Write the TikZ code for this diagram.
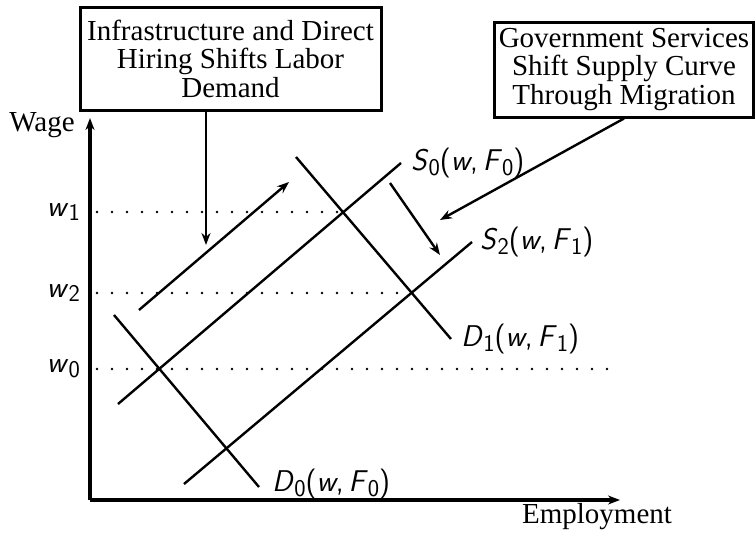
\documentclass[tikz,border=0pt]{standalone}
\usepackage{fontspec}
\setmainfont{Liberation Serif}
\usetikzlibrary{arrows.meta}

% sans italic curve labels, e.g. S_0(w, F_0)
\newcommand{\lowix}[1]{\raisebox{-0.16em}{\fontsize{24}{24}\selectfont#1}}
\newcommand{\fnlab}[4]{{\sffamily\textit{#1}\lowix{#2}(\textit{w},\,\textit{#3}\lowix{#4})}}
\newcommand{\wlab}[1]{{\sffamily\textit{w}\lowix{#1}}}

\begin{document}
\begin{tikzpicture}[x=1pt, y=-1pt,
    >={Stealth[length=12pt,width=9pt]},
    curve/.style={line width=2.4pt},
    shiftarr/.style={line width=2.4pt, ->},
    level/.style={line width=2.6pt, dash pattern=on 0pt off 15pt, line cap=round},
    note/.style={draw, line width=3pt, align=center, inner sep=3pt,
      font=\fontsize{29}{28.5}\selectfont},
    lab/.style={anchor=west, inner sep=2pt, font=\fontsize{30}{36}\selectfont},
    axlab/.style={font=\fontsize{29}{30}\selectfont}]
  \useasboundingbox (0,0) rectangle (755,533);

  % axes
  \coordinate (o) at (90,500);
  \coordinate (ytip) at (90,118);
  \coordinate (xtip) at (620,500);
  \draw[line width=3.2pt, ->] (o) -- (ytip);
  \draw[line width=3.2pt, ->] (o) -- (xtip);
  \node[axlab] (wage) at (42,125) {Wage};
  \node[axlab] (empl) at (597,517) {Employment};

  % wage levels
  \node[lab, anchor=east] (w1) at (82,212) {\wlab{1}};
  \node[lab, anchor=east] (w2) at (82,293) {\wlab{2}};
  \node[lab, anchor=east] (w0) at (82,369) {\wlab{0}};
  \coordinate (e1) at (343,212);
  \coordinate (e2) at (411,293);
  \coordinate (e0) at (612,369);
  \draw[level] (97,212) -- (e1);
  \draw[level] (97,293) -- (e2);
  \draw[level] (97,369) -- (e0);

  % supply and demand curves
  \coordinate (s0a) at (118,404);  \coordinate (s0b) at (401,163);
  \coordinate (s2a) at (184,484);  \coordinate (s2b) at (472,242);
  \coordinate (d0a) at (114,315);  \coordinate (d0b) at (259,487);
  \coordinate (d1a) at (296,157);  \coordinate (d1b) at (451,339);
  \draw[curve] (s0a) -- (s0b) node[lab, xshift=7pt] (s0lab) {\fnlab{S}{0}{F}{0}};
  \draw[curve] (s2a) -- (s2b) node[lab, xshift=5pt] (s2lab) {\fnlab{S}{2}{F}{1}};
  \draw[curve] (d0a) -- (d0b) node[lab, xshift=10pt, yshift=3pt] (d0lab) {\fnlab{D}{0}{F}{0}};
  \draw[curve] (d1a) -- (d1b) node[lab, xshift=7pt] (d1lab) {\fnlab{D}{1}{F}{1}};

  % shift arrows
  \coordinate (up0) at (139,310);  \coordinate (up1) at (289,182);
  \coordinate (dn0) at (390,183);  \coordinate (dn1) at (440,255);
  \draw[shiftarr] (up0) -- (up1);
  \draw[shiftarr] (dn0) -- (dn1);

  % explanatory boxes
  \node[note, minimum width=301pt, minimum height=103pt] (demnote) at (230.5,58.5)
    {Infrastructure and Direct\\Hiring Shifts Labor\\Demand};
  \node[note, minimum width=259pt, minimum height=95pt] (supnote) at (624,69.5)
    {Government Services\\Shift Supply Curve\\Through Migration};
  \coordinate (demtip) at (206,245);
  \coordinate (suptip) at (440,220);
  \draw[shiftarr] (demnote.south -| demtip) -- (demtip);
  \draw[shiftarr] (supnote.south) -- (suptip);
\end{tikzpicture}
\end{document}
